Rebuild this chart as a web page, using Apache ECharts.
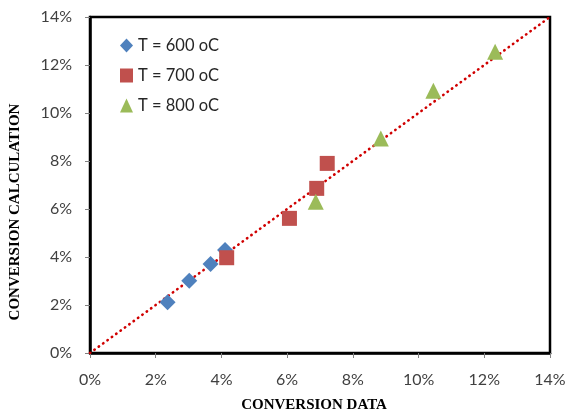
<!DOCTYPE html>
<html><head><meta charset="utf-8">
<script src="https://cdn.jsdelivr.net/npm/echarts@6/dist/echarts.min.js"></script>
<style>html,body{margin:0;padding:0;background:#fff}#c{width:567px;height:410px}</style>
</head><body><div id="c"></div>
<script>
const xTicks = [0, 2, 4, 6, 8, 10, 12, 14];
const names = ['T = 600 oC', 'T = 700 oC', 'T = 800 oC'];
const t600 = [[2.36, 2.11], [3.02, 3.01], [3.67, 3.71], [4.11, 4.29]];
const t700 = [[4.16, 3.97], [6.07, 5.61], [6.90, 6.86], [7.22, 7.90]];
const t800 = [[6.87, 6.30], [8.85, 8.94], [10.45, 10.93], [12.33, 12.55]];
const parity = [[0, 0], [14, 14]];

const chart = echarts.init(document.getElementById('c'));
const tickFont = { fontFamily: 'Lato', fontSize: 16, color: '#404040' };
const nameFont = { fontFamily: 'Liberation Serif', fontSize: 15, fontWeight: 'bold', color: '#000' };
function axis(extra, margin) {
  return Object.assign({
    type: 'value', min: 0, max: 14, interval: 2,
    axisLine: { show: true, lineStyle: { color: '#000', width: 2.5 } },
    axisTick: { show: true, inside: false, length: 5, lineStyle: { color: '#808080', width: 1 } },
    splitLine: { show: false },
    axisLabel: Object.assign({ formatter: v => v + '%', margin: margin }, tickFont),
    nameLocation: 'middle'
  }, extra);
}
chart.setOption({
  animation: false,
  grid: { left: 90, right: 17, top: 17, bottom: 57, containLabel: false, outerBoundsMode: 'none',
    show: true, borderColor: '#000', borderWidth: 2.5, backgroundColor: '#fff' },
  legend: {
    orient: 'vertical', left: 115, top: 32, itemGap: 13,
    itemWidth: 13, itemHeight: 14,
    textStyle: { fontFamily: 'Lato', fontSize: 16.5, lineHeight: 16, color: '#262626' },
    data: [
      { name: names[0], icon: 'diamond' },
      { name: names[1], icon: 'rect' },
      { name: names[2], icon: 'triangle' }
    ]
  },
  xAxis: axis({ name: 'CONVERSION DATA', nameGap: 45,
    nameTextStyle: Object.assign({ padding: [0, 12, 0, 0] }, nameFont) }, 19),
  yAxis: axis({ name: 'CONVERSION CALCULATION', nameGap: 67,
    nameTextStyle: Object.assign({ padding: [0, 54, 0, 0] }, nameFont) }, 18),
  series: [
    { type: 'line', data: parity, symbol: 'none', silent: true, z: 1,
      lineStyle: { color: '#D00000', width: 2.6, type: [0.4, 5], cap: 'round' } },
    { name: names[0], type: 'scatter', data: t600, symbol: 'diamond', symbolSize: 16, z: 2,
      itemStyle: { color: '#4F81BD', opacity: 1 } },
    { name: names[1], type: 'scatter', data: t700, symbol: 'rect', symbolSize: 15, z: 3,
      itemStyle: { color: '#C0504D', opacity: 1 } },
    { name: names[2], type: 'scatter', data: t800, symbol: 'triangle', symbolSize: 16, z: 4,
      itemStyle: { color: '#9BBB59', opacity: 1 } }
  ]
});
</script></body></html>
